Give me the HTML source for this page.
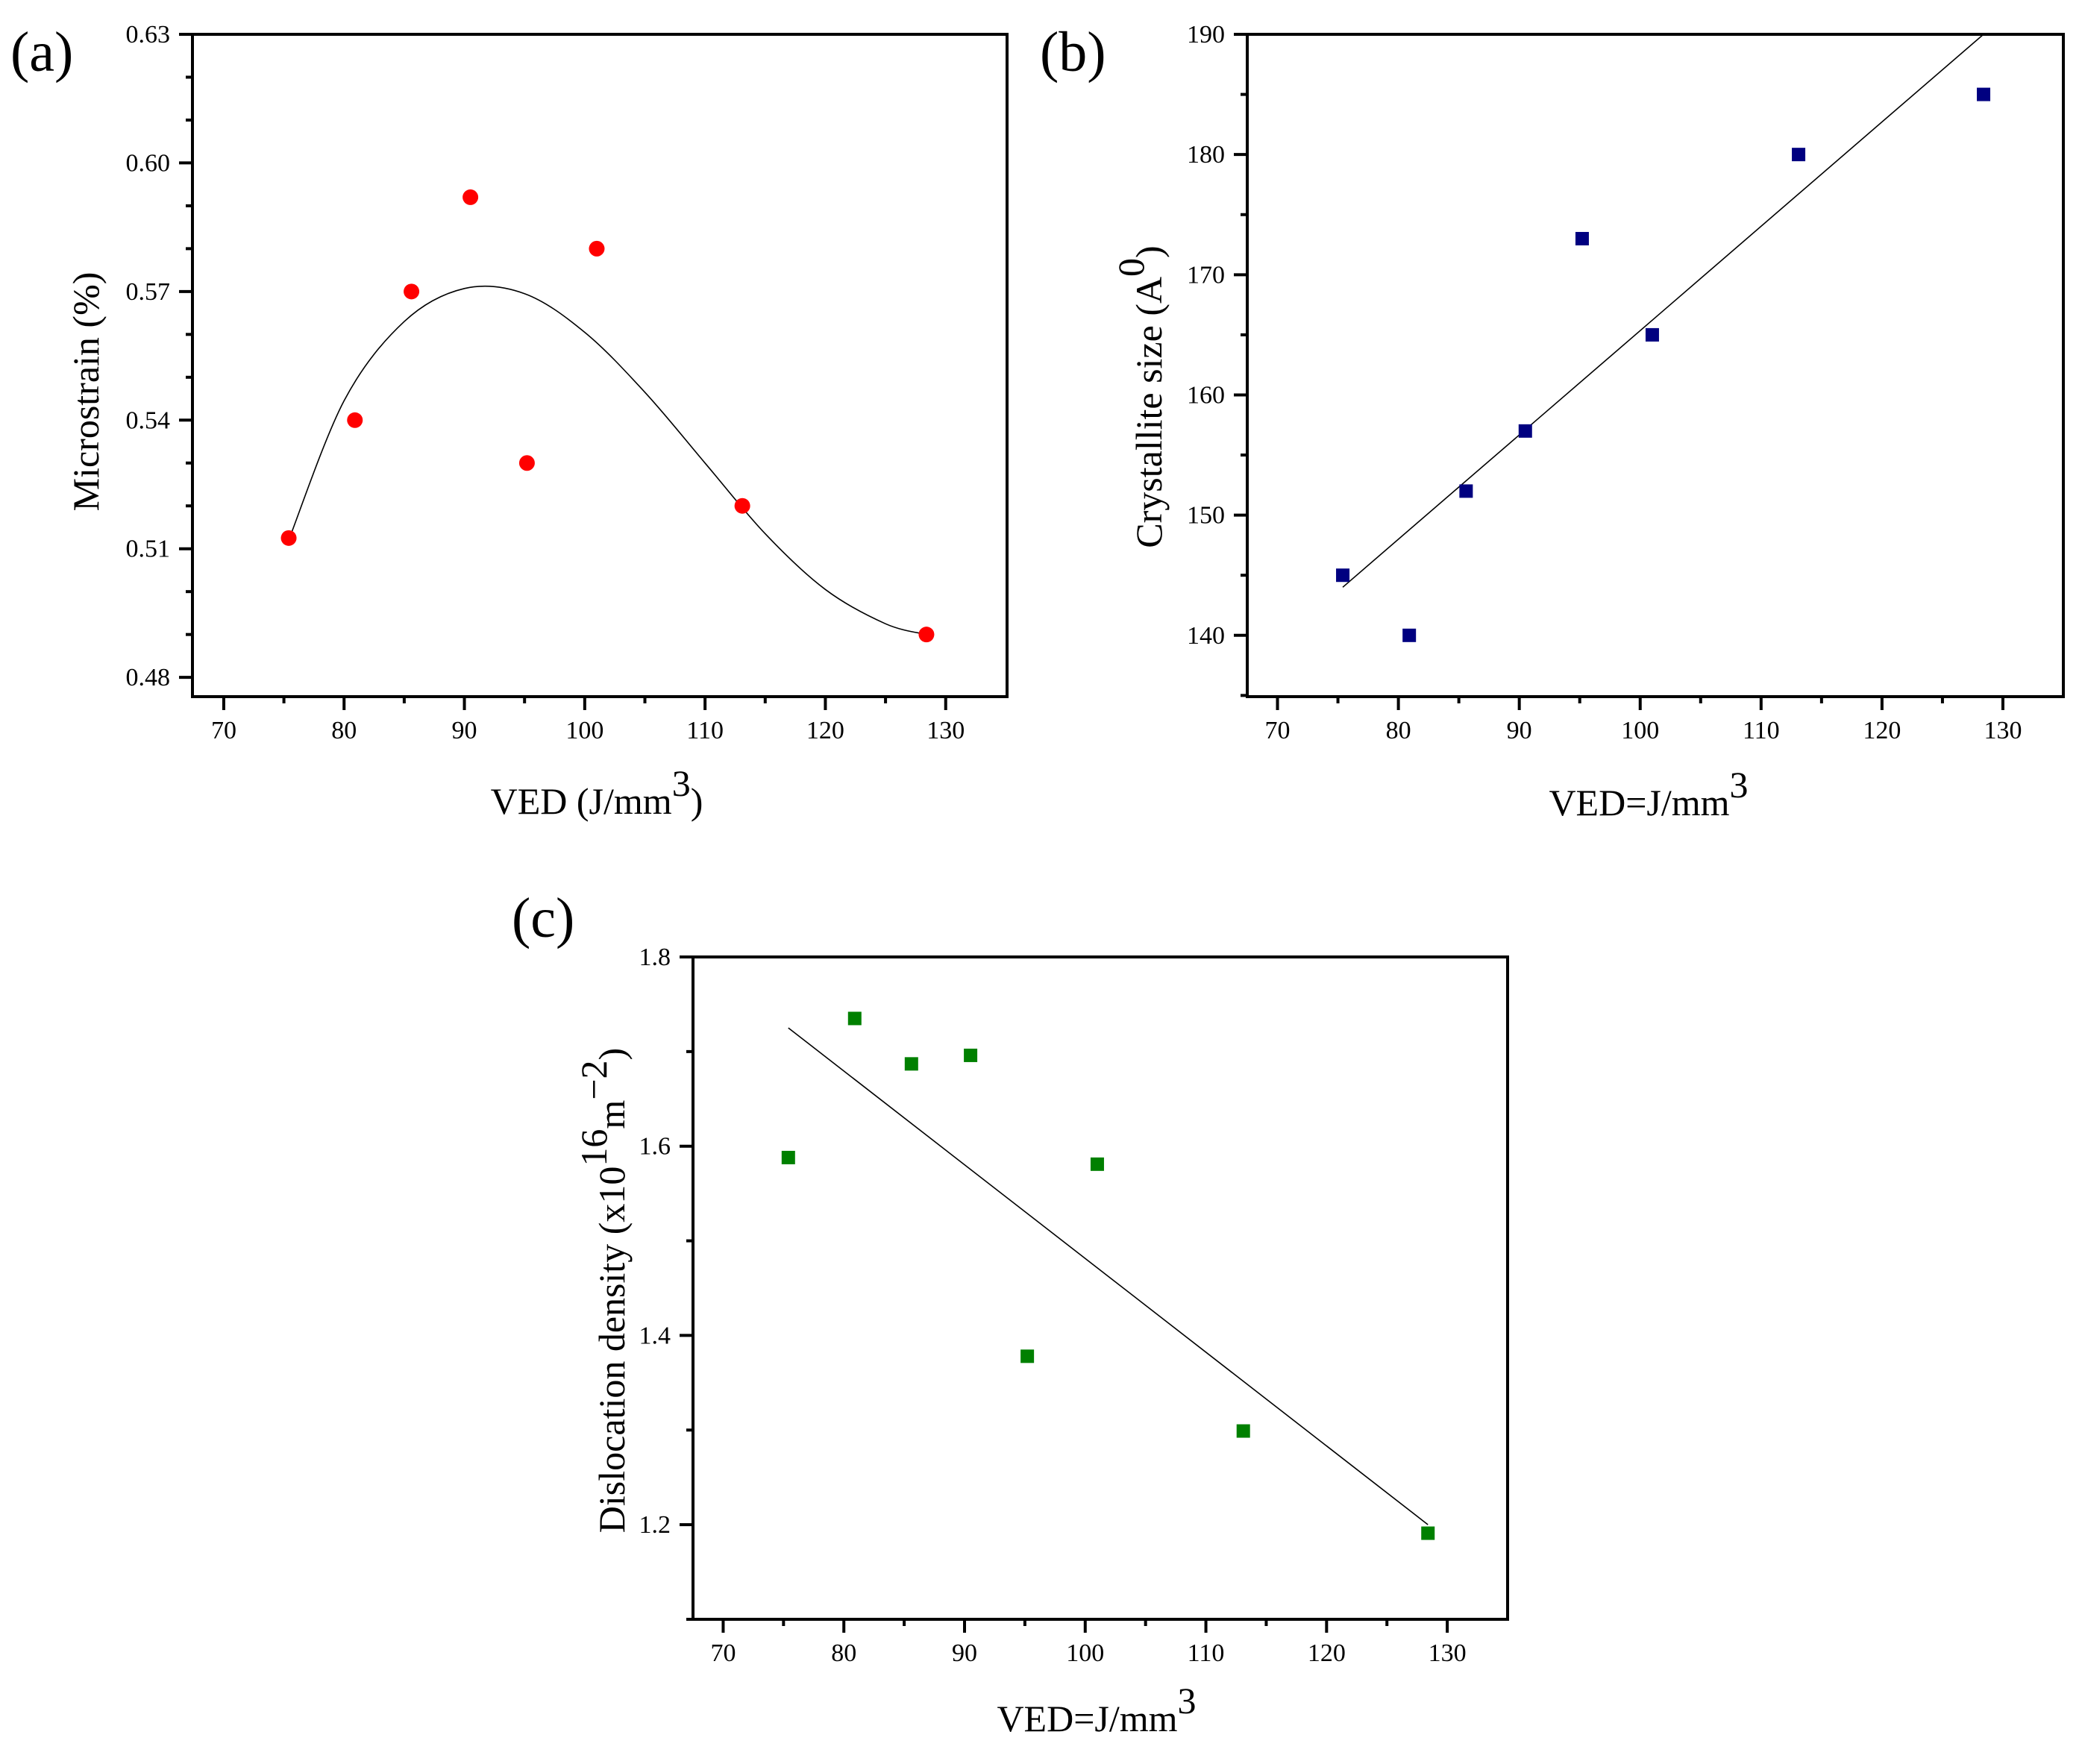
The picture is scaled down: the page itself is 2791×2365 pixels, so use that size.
<!DOCTYPE html>
<html><head><meta charset="utf-8">
<style>
html,body{margin:0;padding:0;background:#fff;}
svg{display:block;font-family:"Liberation Serif",serif;}
</style></head>
<body>
<svg id="fig" width="2791" height="2365" viewBox="0 0 2791 2365" xmlns="http://www.w3.org/2000/svg">
<rect width="2791" height="2365" fill="#fff"/>
<g id="pa"></g>
<g id="pb"></g>
<g id="pc"></g>
</svg>
<script>
const vedValues = [75.4, 80.9, 85.6, 90.5, 95.2, 101, 113.1, 128.4];
const strainValues = [0.5125, 0.54, 0.57, 0.592, 0.53, 0.58, 0.52, 0.49];
const strainFitX = [75.4, 80, 85, 90, 95, 100, 105, 110, 115, 120, 125, 128.4];
const strainFitY = [0.512, 0.5445, 0.563, 0.5707, 0.5695, 0.5605, 0.5465, 0.530, 0.5135, 0.5005, 0.4925, 0.490];
const sizeValues = [145, 140, 152, 157, 173, 165, 180, 185];
const sizeFitX = [75.4, 128.4];
const sizeFitY = [144, 190];
const dislocValues = [1.588, 1.735, 1.687, 1.696, 1.378, 1.581, 1.299, 1.191];
const dislocFitX = [75.4, 128.4];
const dislocFitY = [1.725, 1.2];
const xTicks = [70, 80, 90, 100, 110, 120, 130];
const aYTicks = ['0.48', '0.51', '0.54', '0.57', '0.60', '0.63'];
const bYTicks = ['140', '150', '160', '170', '180', '190'];
const cYTicks = ['1.2', '1.4', '1.6', '1.8'];

const NS = 'http://www.w3.org/2000/svg';
function mk(tag, attrs, parent) {
  const e = document.createElementNS(NS, tag);
  for (const k in attrs) e.setAttribute(k, attrs[k]);
  parent.appendChild(e);
  return e;
}
function smoothPath(p) {
  let d = 'M' + p[0][0].toFixed(1) + ',' + p[0][1].toFixed(1);
  for (let i = 0; i < p.length - 1; i++) {
    const p0 = p[Math.max(0, i - 1)], p1 = p[i], p2 = p[i + 1], p3 = p[Math.min(p.length - 1, i + 2)];
    const c1x = p1[0] + (p2[0] - p0[0]) / 6, c1y = p1[1] + (p2[1] - p0[1]) / 6;
    const c2x = p2[0] - (p3[0] - p1[0]) / 6, c2y = p2[1] - (p3[1] - p1[1]) / 6;
    d += ` C${c1x.toFixed(1)},${c1y.toFixed(1)} ${c2x.toFixed(1)},${c2y.toFixed(1)} ${p2[0].toFixed(1)},${p2[1].toFixed(1)}`;
  }
  return d;
}

function panel(g, cfg) {
  const {L, R, T, B, xmin, xmax, ymin, ymax} = cfg;
  const sx = v => L + (v - xmin) / (xmax - xmin) * (R - L);
  const sy = v => B - (v - ymin) / (ymax - ymin) * (B - T);
  const fr = mk('rect', {x: L, y: T, width: R - L, height: B - T, fill: 'none', stroke: '#000', 'stroke-width': 4}, g);
  
  
  for (let v = 70; v <= 130; v += 5) {
    const major = v % 10 === 0;
    const t = mk('line', {x1: sx(v), x2: sx(v), y1: B, y2: B + (major ? 18 : 9), stroke: '#000', 'stroke-width': 4}, g);
    
    
  }
  xTicks.forEach(v => {
    const tx = mk('text', {x: sx(v), y: B + 56, 'font-size': 34, 'text-anchor': 'middle', fill: '#000'}, g);
    tx.textContent = v;
    
    
  });
  for (let i = 0; ; i++) {
    const v = cfg.yMinorStart + i * cfg.yMinorStep;
    if (v > ymax + 1e-9) break;
    const major = (i + cfg.majorOffset) % cfg.majorEvery === 0;
    const t = mk('line', {x1: L, x2: L - (major ? 18 : 9), y1: sy(v), y2: sy(v), stroke: '#000', 'stroke-width': 4}, g);
    
    
  }
  cfg.yLabels.forEach(s => {
    const tx = mk('text', {x: L - 30, y: sy(parseFloat(s)) + 11, 'font-size': 34, 'text-anchor': 'end', fill: '#000'}, g);
    tx.textContent = s;
    
    
  });
  const pts = cfg.fitX.map((x, i) => [sx(x), sy(cfg.fitY[i])]);
  const pl = mk('path', {d: smoothPath(pts), fill: 'none', stroke: '#000', 'stroke-width': 1.6}, g);
  
  
  vedValues.forEach((x, i) => {
    let m;
    if (cfg.marker === 'circle') {
      m = mk('circle', {cx: sx(x), cy: sy(cfg.values[i]), r: 10.5, fill: cfg.color}, g);
    } else {
      m = mk('rect', {x: sx(x) - 9, y: sy(cfg.values[i]) - 9, width: 18, height: 18, fill: cfg.color}, g);
    }
    
    
  });
  const xt = mk('text', {x: cfg.xtX, y: cfg.xtY, 'font-size': 50, 'text-anchor': 'middle', fill: '#000'}, g);
  xt.innerHTML = cfg.xTitle;
  
  
  const yt = mk('text', {x: 0, y: 0, 'font-size': 50, 'text-anchor': 'middle', fill: '#000', transform: `translate(${cfg.ytX},${cfg.ytY}) rotate(-90)`}, g);
  yt.innerHTML = cfg.yTitle;
  
  
  const pl2 = mk('text', {x: cfg.labX, y: cfg.labY, 'font-size': 76, fill: '#000'}, g);
  pl2.textContent = cfg.label;
  
  
}

panel(document.getElementById('pa'), {
  L: 258, R: 1350, T: 46, B: 934, xmin: 67.4, xmax: 135.1,
  ymin: 0.4755, ymax: 0.63, yMinorStart: 0.48, yMinorStep: 0.01, majorEvery: 3, majorOffset: 0,
  yLabels: aYTicks, fitX: strainFitX, fitY: strainFitY, values: strainValues,
  marker: 'circle', color: '#ff0000',
  xTitle: 'VED (J/mm<tspan dy="-24">3</tspan><tspan dy="24">)</tspan>', xtX: 800, xtY: 1091,
  yTitle: 'Microstrain (%)', ytX: 132, ytY: 525,
  label: '(a)', labX: 14, labY: 95
});
panel(document.getElementById('pb'), {
  L: 1672, R: 2766, T: 46, B: 934, xmin: 67.5, xmax: 135,
  ymin: 134.9, ymax: 190, yMinorStart: 135, yMinorStep: 5, majorEvery: 2, majorOffset: 1,
  yLabels: bYTicks, fitX: sizeFitX, fitY: sizeFitY, values: sizeValues,
  marker: 'square', color: '#000080',
  xTitle: 'VED=J/mm<tspan dy="-24">3</tspan>', xtX: 2210, xtY: 1093,
  yTitle: 'Crystallite size (A<tspan dy="-24">0</tspan><tspan dy="24">)</tspan>', ytX: 1557, ytY: 532,
  label: '(b)', labX: 1394, labY: 95
});
panel(document.getElementById('pc'), {
  L: 929, R: 2021, T: 1283, B: 2171, xmin: 67.5, xmax: 135,
  ymin: 1.1, ymax: 1.8, yMinorStart: 1.1, yMinorStep: 0.1, majorEvery: 2, majorOffset: 1,
  yLabels: cYTicks, fitX: dislocFitX, fitY: dislocFitY, values: dislocValues,
  marker: 'square', color: '#008000',
  xTitle: 'VED=J/mm<tspan dy="-24">3</tspan>', xtX: 1470, xtY: 2321,
  yTitle: 'Dislocation density (x10<tspan dy="-24">16</tspan><tspan dy="24">m</tspan><tspan dy="-24">−2</tspan><tspan dy="24">)</tspan>', ytX: 837, ytY: 1730,
  label: '(c)', labX: 686, labY: 1256
});
</script>
</body></html>
